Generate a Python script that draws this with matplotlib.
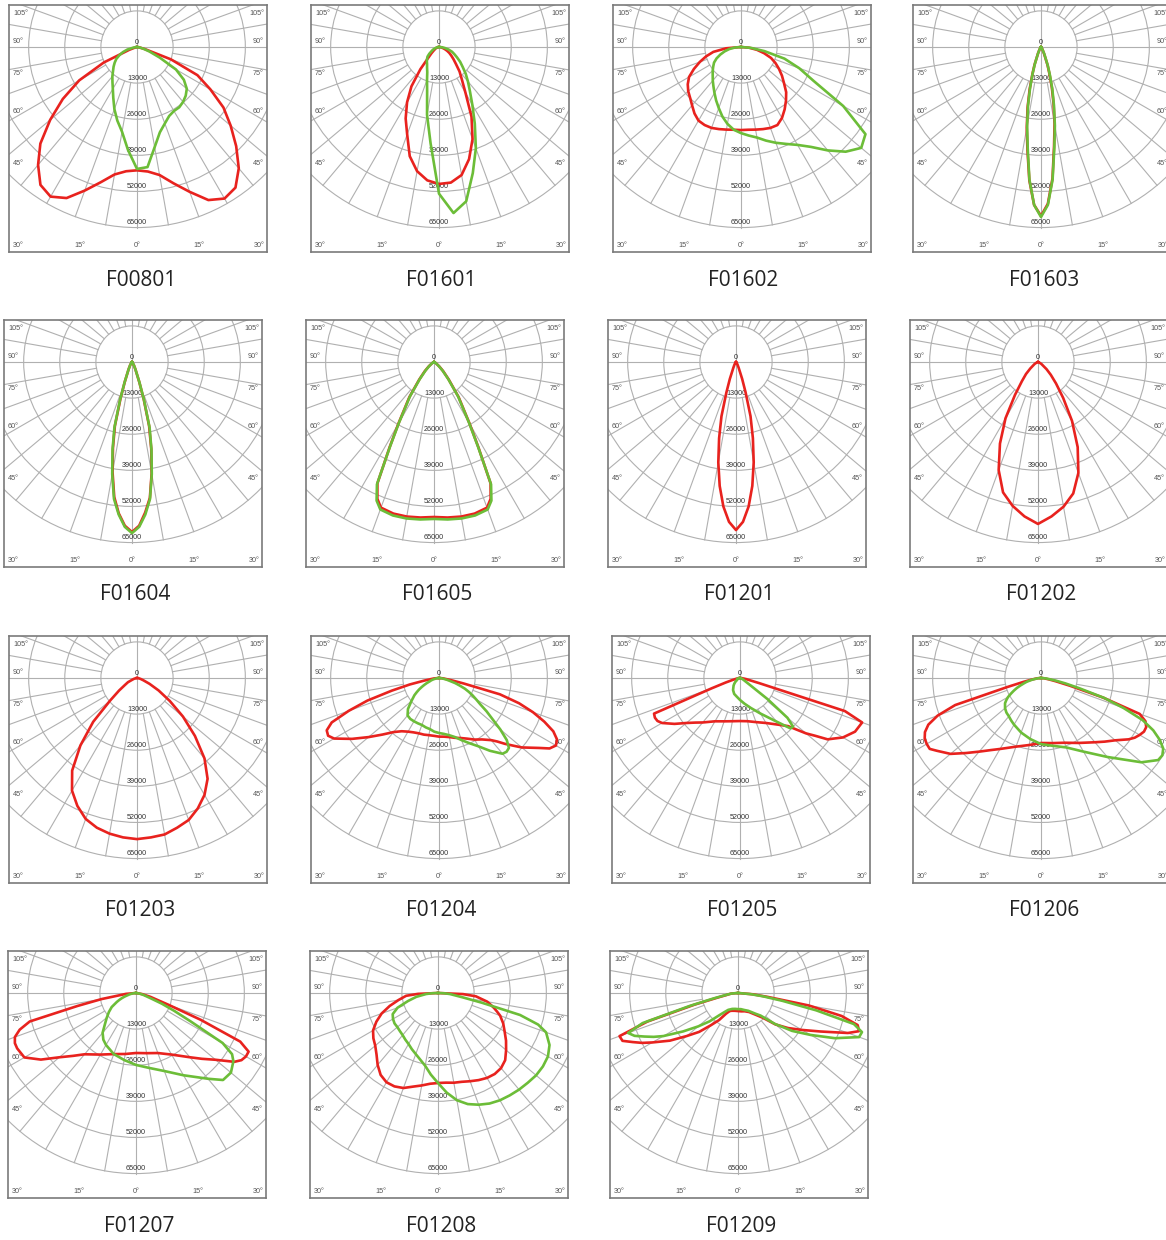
import numpy as np
import matplotlib.pyplot as plt
from matplotlib.patches import Circle

plt.rcParams["font.family"] = ["Open Sans", "DejaVu Sans"]

# 광도 곡선 데이터: 각도(도, 0 = 아래쪽, 음수 = 왼쪽), 광도(kcd)
RING_VALUES = [13000, 26000, 39000, 52000, 65000]
SIDE_LABELS = ["105°", "90°", "75°", "60°", "45°"]
BOTTOM_LABELS = ["30°", "15°", "0°", "15°", "30°"]

ANG_5 = list(range(-90, 95, 5))
ANG_NARROW = [-90, -40, -30, -25, -20, -17.5, -15, -12.5, -10, -7.5, -5, -2.5, 0,
              2.5, 5, 7.5, 10, 12.5, 15, 17.5, 20, 25, 30, 40, 90]

RED_F00801 = [0, 0, 0.2, 0.7, 3.0, 13.2, 24.0, 32.6, 40.8, 49.2, 55.4, 60.6, 62.2, 60.0, 55.0, 50.4,
              46.6, 44.9, 44.4, 45.0, 46.8, 50.8, 55.5, 60.8, 63.0, 61.8, 57.0, 50.5, 44.0, 38.0,
              30.5, 24.0, 13.0, 3.0, 0.8, 0.2, 0]
GRN_F00801 = [0, 0.4, 1.4, 3.6, 5.4, 7.0, 8.6, 9.8, 11.0, 12.2, 13.8, 15.4, 17.4, 20.2, 23.8, 27.4,
              31.0, 37.2, 43.9, 43.4, 36.6, 31.8, 29.3, 27.4, 26.6, 26.5, 25.8, 24.8, 23.4, 20.6,
              16.2, 9.0, 4.8, 2.4, 1.0, 0.2, 0]

RED_F01601 = [0, 0, 0.4, 0.7, 1.1, 1.4, 1.8, 2.5, 3.6, 5.4, 10.4, 17.3, 23.0, 28.4, 33.5, 40.7,
              45.4, 48.2, 49.3, 49.0, 46.8, 41.8, 35.3, 27.7, 19.1, 14.4, 11.5, 8.6, 6.8, 5.4,
              4.3, 3.2, 2.2, 1.4, 0.7, 0.4, 0]
GRN_F01601 = [0, 0.4, 0.7, 1.1, 1.8, 2.5, 3.2, 4.3, 5.4, 6.1, 6.8, 7.5, 8.6, 10.0, 12.6, 16.5,
              24.8, 34.8, 52.8, 60.0, 56.4, 47.0, 38.8, 30.5, 24.0, 19.4, 16.2, 13.6, 11.1, 9.3,
              7.5, 6.1, 5.0, 3.6, 2.2, 1.1, 0]

RED_F01602 = [0, 5.4, 10.1, 13.0, 15.8, 18.7, 21.6, 23.4, 24.8, 25.9, 27.4, 29.2, 30.6, 31.0, 31.0,
              30.6, 30.2, 29.9, 29.9, 29.9, 30.2, 30.6, 31.0, 31.0, 29.5, 27.4, 25.2, 23.0, 20.2,
              18.0, 15.8, 13.7, 11.5, 8.6, 5.8, 2.9, 0]
GRN_F01602 = [0, 2.2, 4.3, 6.1, 7.9, 9.7, 11.2, 12.2, 13.3, 14.4, 15.8, 17.3, 19.1, 21.2, 23.4,
              25.9, 28.1, 29.9, 31.0, 32.0, 33.1, 34.9, 36.7, 38.5, 40.7, 43.9, 48.6, 53.3, 56.5,
              54.7, 42.5, 28.8, 22.3, 16.2, 8.6, 3.6, 0]

RED_F01603 = [0, 0.4, 1.1, 2.5, 6.8, 10.4, 15.8, 22.3, 29.5, 37.4, 48.2, 56.9, 60.8, 56.5, 47.5,
              36.0, 28.1, 20.9, 15.1, 10.1, 6.8, 2.5, 1.1, 0.4, 0]
GRN_F01603 = [0, 0.4, 1.1, 2.5, 6.5, 10.1, 15.1, 21.6, 28.8, 36.7, 47.9, 56.9, 61.2, 56.9, 47.9,
              36.7, 28.8, 21.6, 15.8, 10.8, 7.2, 2.9, 1.1, 0.4, 0]

RED_F01604 = [0, 0.4, 1.4, 2.9, 7.6, 13.7, 23.8, 31.7, 40.3, 49.0, 54.7, 59.0, 61.2, 59.0, 54.4,
              49.3, 40.7, 32.0, 23.8, 14.0, 7.6, 2.9, 1.4, 0.4, 0]
GRN_F01604 = [0, 0.4, 1.4, 2.9, 7.9, 14.4, 24.5, 32.4, 41.0, 49.7, 55.1, 59.4, 61.6, 59.4, 55.1,
              49.7, 41.0, 32.4, 24.5, 14.4, 7.9, 2.9, 1.4, 0.4, 0]

ANG_F01605 = [-90, -60, -50, -45, -40, -35, -30, -27.5, -25, -22.5, -20, -15, -10, -5, 0,
              5, 10, 15, 20, 22.5, 25, 27.5, 30, 35, 40, 45, 50, 60, 90]
RED_F01605 = [0, 0.7, 2.5, 4.7, 8.3, 15.5, 25.6, 34.6, 48.2, 53.3, 55.8, 56.5, 56.5, 56.2, 55.8,
              56.2, 56.5, 56.5, 55.8, 53.3, 48.2, 34.6, 25.6, 15.5, 8.3, 4.7, 2.5, 0.7, 0]
GRN_F01605 = [0, 0.7, 2.2, 4.3, 7.9, 15.1, 25.2, 34.2, 48.6, 54.0, 56.5, 57.2, 57.2, 56.9, 56.5,
              56.9, 57.2, 57.2, 56.5, 54.0, 48.6, 34.2, 25.2, 15.1, 7.9, 4.3, 2.2, 0.7, 0]

RED_F01201 = [0, 0.4, 1.1, 2.2, 6.5, 11.5, 20.2, 28.1, 36.7, 45.0, 52.2, 57.6, 60.5, 57.6, 52.2,
              45.0, 36.7, 28.1, 20.2, 11.5, 6.5, 2.2, 1.1, 0.4, 0]

ANG_F01202 = [-90, -70, -60, -50, -45, -40, -35, -30, -25, -20, -15, -10, -5, 0,
              5, 10, 15, 20, 25, 30, 35, 40, 45, 50, 60, 70, 90]
RED_F01202 = [0, 0.4, 1.4, 3.6, 6.1, 9.0, 14.4, 23.4, 32.4, 41.4, 48.6, 52.6, 55.8, 58.3,
              55.8, 52.9, 49.0, 42.5, 33.8, 24.5, 15.8, 10.1, 6.5, 4.0, 1.4, 0.4, 0]

RED_F01203 = [0, 0.2, 0.4, 1.1, 1.8, 3.6, 5.0, 7.9, 12.6, 22.3, 31.7, 40.7, 46.8, 50.8, 54.0,
              55.8, 56.9, 57.6, 58.0, 57.6, 57.2, 55.8, 54.4, 51.8, 48.6, 44.3, 37.8, 29.5, 21.6,
              14.4, 9.0, 5.0, 2.5, 1.4, 0.7, 0.4, 0]

ANG_F01204 = [-90, -85, -80, -77.5, -75, -72.5, -70, -67.5, -65, -62.5, -60, -57.5, -55, -50,
              -45, -40, -35, -30, -25, -20, -15, -10, -5, 0, 5, 10, 15, 20, 25, 30, 35, 40,
              42.5, 45, 47.5, 50, 55, 57.5, 60, 62.5, 65, 67.5, 70, 72.5, 75, 77.5, 80, 85, 90]
RED_F01204 = [0, 1.8, 5.4, 10.8, 17.6, 27.0, 34.6, 41.8, 44.6, 45.0, 43.6, 40.7, 38.2, 33.1,
              28.8, 25.4, 23.4, 22.3, 21.6, 21.2, 21.1, 20.9, 20.9, 21.1, 21.2, 21.6, 22.3, 23.0,
              24.1, 25.6, 27.0, 29.2, 31.0, 33.5, 36.0, 38.9, 43.9, 47.2, 48.6, 47.9, 45.4, 41.0,
              36.0, 30.2, 22.7, 9.0, 4.3, 1.4, 0]
GRN_F01204 = [0, 0.5, 1.1, 1.8, 2.5, 3.1, 3.6, 4.7, 5.8, 7.0, 8.3, 9.5, 10.8, 13.0, 15.8, 17.6,
              18.0, 18.0, 18.0, 18.0, 18.4, 18.7, 19.4, 19.8, 20.2, 20.9, 22.0, 23.8, 25.9, 28.4,
              32.0, 35.6, 36.0, 35.6, 33.1, 28.8, 20.9, 17.6, 15.5, 13.7, 11.9, 10.1, 7.9, 6.1,
              4.0, 2.9, 1.8, 0.7, 0]

ANG_F01205 = [-90, -85, -80, -75, -72.5, -70, -67.5, -65, -62.5, -60, -55, -50, -45, -40, -30,
              -20, -10, 0, 10, 20, 30, 40, 45, 47.5, 50, 52.5, 55, 60, 65, 70, 72.5, 75, 80, 85, 90]
RED_F01205 = [0, 0.4, 1.1, 2.9, 5.4, 10.8, 33.5, 33.8, 33.5, 32.4, 28.8, 25.2, 22.7, 20.9, 18.0,
              16.6, 15.8, 15.5, 15.8, 16.9, 18.7, 22.0, 24.5, 27.4, 31.0, 34.2, 38.5, 42.8, 45.7,
              46.8, 39.6, 7.2, 2.2, 0.7, 0]
GRN_F01205 = [0, 0.4, 0.7, 0.9, 1.1, 1.1, 1.1, 1.1, 1.1, 1.1, 1.4, 2.2, 2.9, 3.6, 5.0, 6.1, 6.8,
              7.9, 9.4, 11.5, 14.8, 20.5, 25.6, 25.9, 22.3, 12.6, 4.3, 1.8, 1.1, 0.7, 0.5, 0.4,
              0.2, 0, 0]

ANG_F01206 = [-90, -85, -80, -77.5, -75, -72.5, -70, -67.5, -65, -62.5, -60, -57.5, -55, -50,
              -45, -40, -35, -30, -20, -10, 0, 10, 20, 30, 40, 45, 50, 55, 57.5, 60, 62.5, 65,
              67.5, 70, 72.5, 75, 77.5, 80, 85, 90]
RED_F01206 = [0, 1.4, 3.6, 6.5, 12.6, 32.4, 39.6, 43.9, 46.1, 47.2, 47.5, 47.5, 45.7, 42.5, 38.2,
              34.6, 31.7, 29.5, 26.3, 24.5, 23.4, 23.8, 24.8, 27.0, 30.2, 32.4, 34.9, 38.5, 40.0,
              41.0, 41.8, 41.8, 40.7, 37.8, 23.4, 10.8, 5.4, 2.9, 1.1, 0]
GRN_F01206 = [0, 1.1, 2.9, 4.0, 5.4, 6.5, 7.9, 9.4, 10.8, 12.2, 13.7, 14.8, 15.8, 16.9, 17.6,
              18.0, 18.7, 19.4, 20.9, 22.3, 23.8, 24.8, 26.6, 30.6, 37.1, 41.4, 47.2, 51.5, 51.8,
              50.8, 48.2, 44.6, 39.6, 31.7, 23.8, 14.4, 9.0, 5.4, 1.8, 0]

ANG_F01207 = [-90, -85, -80, -77.5, -75, -72.5, -70, -67.5, -65, -60, -55, -50, -45, -40, -35,
              -30, -20, -10, 0, 10, 20, 30, 40, 45, 50, 55, 57.5, 60, 62.5, 65, 67.5, 70, 75, 80, 90]
RED_F01207 = [0, 3.6, 12.6, 21.6, 39.6, 43.9, 46.4, 47.2, 47.2, 46.4, 41.8, 36.0, 32.0, 28.8,
              27.0, 25.6, 23.4, 22.3, 21.6, 22.0, 23.0, 25.6, 30.2, 33.5, 37.4, 43.2, 45.0, 45.7,
              45.7, 41.4, 25.2, 12.6, 5.4, 2.2, 0]
GRN_F01207 = [0, 0.7, 1.8, 2.5, 3.2, 4.3, 5.4, 6.5, 7.6, 10.1, 11.9, 13.7, 15.8, 18.7, 20.5,
              21.6, 23.4, 24.5, 25.9, 27.4, 29.9, 34.2, 40.3, 44.3, 44.6, 42.8, 41.0, 36.0, 22.3,
              15.1, 10.1, 5.8, 2.9, 1.4, 0]

ANG_F01208 = [-90, -87.5, -85, -80, -75, -70, -65, -60, -55, -50, -45, -40, -35, -30, -25, -20,
              -15, -10, -5, 0, 5, 10, 15, 20, 25, 30, 35, 40, 45, 50, 55, 60, 65, 70, 72.5, 75,
              77.5, 80, 85, 87.5, 90]
RED_F01208 = [0, 7.2, 11.5, 14.4, 18.0, 21.6, 24.5, 27.0, 28.4, 29.5, 31.3, 33.8, 36.0, 37.1,
              37.1, 36.4, 34.9, 33.8, 32.8, 32.4, 32.4, 32.8, 33.1, 33.8, 34.6, 35.3, 35.6, 35.3,
              34.2, 32.0, 29.9, 27.7, 25.9, 23.8, 22.3, 20.9, 19.4, 18.0, 13.7, 9.0, 0]
GRN_F01208 = [0, 2.2, 4.3, 7.9, 11.2, 15.5, 18.0, 18.7, 19.1, 19.1, 19.4, 19.8, 20.5, 21.2,
              22.3, 23.4, 24.8, 26.6, 29.5, 32.4, 36.0, 39.2, 41.4, 42.8, 43.9, 44.6, 45.0, 45.4,
              45.7, 46.1, 46.1, 45.7, 44.3, 41.4, 37.8, 30.6, 16.2, 9.0, 4.3, 2.2, 0]

ANG_F01209 = [-90, -85, -80, -77.5, -75, -72.5, -70, -67.5, -65, -62.5, -60, -55, -50, -45, -40,
              -35, -30, -25, -20, -10, 0, 10, 20, 30, 40, 45, 50, 55, 60, 65, 70, 72.5, 75, 77.5,
              80, 82.5, 85, 90]
RED_F01209 = [0, 2.5, 4.3, 7.2, 16.2, 34.2, 45.4, 45.0, 41.8, 38.9, 35.6, 29.9, 24.1, 19.8, 15.1,
              11.9, 8.6, 7.2, 6.8, 6.5, 6.5, 6.7, 7.0, 7.9, 10.4, 12.6, 17.6, 22.0, 26.6, 32.8,
              42.1, 45.7, 44.6, 38.2, 25.9, 10.8, 5.4, 0]
GRN_F01209 = [0, 2.5, 5.0, 9.0, 18.0, 36.0, 42.1, 40.3, 37.1, 34.2, 31.0, 24.1, 18.7, 14.4, 10.4,
              8.3, 7.0, 6.5, 6.1, 5.8, 5.8, 5.9, 6.5, 7.4, 9.7, 11.5, 17.3, 23.8, 30.2, 38.5,
              46.4, 46.8, 43.2, 28.8, 16.2, 9.0, 4.3, 0]

PANELS = [
    ("F00801", ANG_5, RED_F00801, GRN_F00801),
    ("F01601", ANG_5, RED_F01601, GRN_F01601),
    ("F01602", ANG_5, RED_F01602, GRN_F01602),
    ("F01603", ANG_NARROW, RED_F01603, GRN_F01603),
    ("F01604", ANG_NARROW, RED_F01604, GRN_F01604),
    ("F01605", ANG_F01605, RED_F01605, GRN_F01605),
    ("F01201", ANG_NARROW, RED_F01201, None),
    ("F01202", ANG_F01202, RED_F01202, None),
    ("F01203", ANG_5, RED_F01203, None),
    ("F01204", ANG_F01204, RED_F01204, GRN_F01204),
    ("F01205", ANG_F01205, RED_F01205, GRN_F01205),
    ("F01206", ANG_F01206, RED_F01206, GRN_F01206),
    ("F01207", ANG_F01207, RED_F01207, GRN_F01207),
    ("F01208", ANG_F01208, RED_F01208, GRN_F01208),
    ("F01209", ANG_F01209, RED_F01209, GRN_F01209),
]

# 패널 위치 (픽셀)
W, H, DPI = 1166, 1240, 100
BOX_W, BOX_H = 258, 247
CX, CY = 128, 42             # 박스 안 원점 위치
KCD_PER_PX = 0.36
BOX_LEFT = [9, 311, 613, 913, 4, 306, 608, 910, 9, 311, 612, 913, 8, 310, 610]
BOX_TOP = [5] * 4 + [320] * 4 + [636] * 4 + [951] * 3
TITLE_X = [141, 441, 743, 1044, 135, 437, 739, 1041, 140, 441, 742, 1044, 139, 441, 741]
TITLE_Y = [280] * 4 + [595] * 4 + [910] * 4 + [1226] * 3

GRID = "#b0b0b0"
RED = "#e8221e"
GREEN = "#6cbd38"
SMALL_FONT = ["Liberation Sans", "DejaVu Sans"]

fig = plt.figure(figsize=(W / DPI, H / DPI), dpi=DPI)


def draw_grid(ax):
    rings = [v / 1000 for v in RING_VALUES]
    for r in rings:
        ax.add_patch(Circle((0, 0), r, fill=False, ec=GRID, lw=0.8, zorder=1))
    for a in range(0, 360, 10):
        r0 = 0 if a % 90 == 0 else rings[0]
        t = np.radians(a)
        ax.plot([r0 * np.sin(t), rings[-1] * np.sin(t)],
                [-r0 * np.cos(t), -rings[-1] * np.cos(t)],
                color=GRID, lw=0.8, zorder=1)
    ax.text(0, 0.4, "0", ha="center", va="bottom", fontsize=5.2, color="#333333",
            family=SMALL_FONT, zorder=2)
    for v in RING_VALUES:
        ax.text(0, -v / 1000 + 0.4, str(v), ha="center", va="bottom", fontsize=5.2,
                color="#333333", family=SMALL_FONT, zorder=2)

    # 각도 라벨 (박스 기준 픽셀 위치)
    side_y = [8.3, 36.7, 68.3, 106.7, 158.3]
    for lab, py in zip(SIDE_LABELS, side_y):
        ax.text(4 / BOX_W, 1 - py / BOX_H, lab, transform=ax.transAxes, ha="left",
                va="center", fontsize=5.2, color="#555555", family=SMALL_FONT)
        ax.text(1 - 3 / BOX_W, 1 - py / BOX_H, lab, transform=ax.transAxes, ha="right",
                va="center", fontsize=5.2, color="#555555", family=SMALL_FONT)
    bottom_x = [9.3, 71, 128.3, 190, 250]
    for lab, px in zip(BOTTOM_LABELS, bottom_x):
        ax.text(px / BOX_W, 1 - 240.7 / BOX_H, lab, transform=ax.transAxes, ha="center",
                va="center", fontsize=5.2, color="#555555", family=SMALL_FONT)


def draw_curve(ax, ang, vals, color):
    t = np.radians(ang)
    v = np.array(vals)
    ax.plot(v * np.sin(t), -v * np.cos(t), color=color, lw=1.9, zorder=4,
            solid_joinstyle="round")


for i, (name, ang, red, green) in enumerate(PANELS):
    left, top = BOX_LEFT[i], BOX_TOP[i]
    ax = fig.add_axes([left / W, 1 - (top + BOX_H) / H, BOX_W / W, BOX_H / H])
    ax.set_xlim(-CX * KCD_PER_PX, (BOX_W - CX) * KCD_PER_PX)
    ax.set_ylim(-(BOX_H - CY) * KCD_PER_PX, CY * KCD_PER_PX)
    ax.set_xticks([])
    ax.set_yticks([])
    for sp in ax.spines.values():
        sp.set_color("#7a7a7a")
        sp.set_linewidth(1.2)

    draw_grid(ax)
    draw_curve(ax, ang, red, RED)
    if green is not None:
        draw_curve(ax, ang, green, GREEN)

    fig.text(TITLE_X[i] / W, 1 - TITLE_Y[i] / H, name, ha="center", va="center",
             fontsize=15, color="#222222")

fig.savefig("out.png", dpi=DPI, facecolor="white")
